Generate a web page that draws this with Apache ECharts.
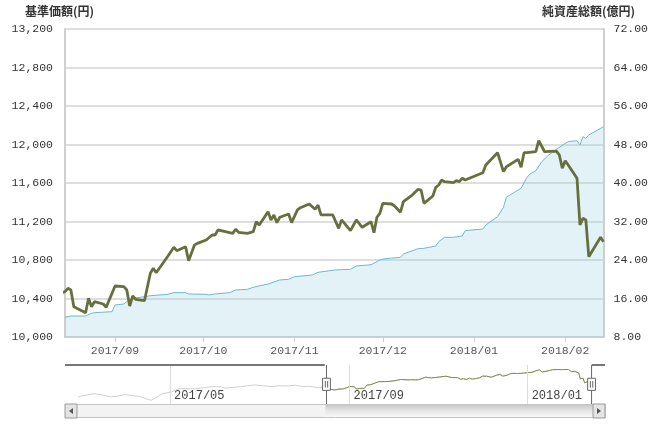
<!DOCTYPE html>
<html>
<head>
<meta charset="utf-8">
<script src="https://cdn.jsdelivr.net/npm/echarts@6.0.0/dist/echarts.min.js"></script>
<style>
html,body{margin:0;padding:0;background:#fff;}
#fund{width:651px;height:428px;}
</style>
</head>
<body>
<div id="fund"></div>
<script>
// 基準価額(円)
var navDates = [
  '2017-02-27','2017-03-03','2017-03-10','2017-03-15','2017-03-22','2017-03-27','2017-03-31',
  '2017-04-05','2017-04-10','2017-04-14','2017-04-18','2017-04-21','2017-04-26',
  '2017-05-02','2017-05-08','2017-05-15','2017-05-22','2017-05-29',
  '2017-06-05','2017-06-08','2017-06-13','2017-06-19','2017-06-23','2017-06-28',
  '2017-07-04','2017-07-10','2017-07-14','2017-07-21','2017-07-26','2017-07-31',
  '2017-08-04','2017-08-10','2017-08-14','2017-08-15','2017-08-16','2017-08-17','2017-08-18',
  '2017-08-22','2017-08-23','2017-08-24','2017-08-25','2017-08-28','2017-08-29',
  '2017-09-01','2017-09-04','2017-09-05','2017-09-06','2017-09-07','2017-09-08','2017-09-11',
  '2017-09-13','2017-09-14','2017-09-15','2017-09-19','2017-09-21','2017-09-22','2017-09-25',
  '2017-09-26','2017-09-28','2017-09-29',
  '2017-10-02','2017-10-04','2017-10-05','2017-10-06','2017-10-11','2017-10-12','2017-10-13',
  '2017-10-16','2017-10-18','2017-10-19','2017-10-20','2017-10-23','2017-10-24','2017-10-25',
  '2017-10-26','2017-10-27','2017-10-30','2017-10-31',
  '2017-11-02','2017-11-03','2017-11-06','2017-11-08','2017-11-09','2017-11-10','2017-11-14',
  '2017-11-16','2017-11-17','2017-11-18','2017-11-20','2017-11-22','2017-11-24','2017-11-27',
  '2017-11-28','2017-11-29','2017-11-30',
  '2017-12-01','2017-12-04','2017-12-05','2017-12-07','2017-12-08','2017-12-11','2017-12-13',
  '2017-12-14','2017-12-15','2017-12-18','2017-12-19','2017-12-20','2017-12-21','2017-12-22',
  '2017-12-25','2017-12-26','2017-12-27','2017-12-28','2017-12-29',
  '2018-01-04','2018-01-05','2018-01-09','2018-01-11','2018-01-12','2018-01-16','2018-01-17',
  '2018-01-18','2018-01-19','2018-01-22','2018-01-23','2018-01-25','2018-01-29','2018-01-30',
  '2018-01-31',
  '2018-02-01','2018-02-02','2018-02-05','2018-02-06','2018-02-07','2018-02-08','2018-02-09',
  '2018-02-13','2018-02-14'
];
var navValues = [
  9680,9800,9950,9850,9680,9760,9870,
  9800,9720,9560,9410,9600,9950,
  10090,10390,10330,10400,10520,
  10520,10390,10470,10520,10600,10660,
  10590,10520,10600,10580,10640,10520,
  10560,10440,10460,10471,10506,10488,10315,
  10252,10402,10315,10367,10343,10309,
  10530,10523,10488,10322,10426,10392,10377,
  10662,10714,10668,10842,10932,10897,10938,
  10793,10956,10973,
  11008,11060,11060,11112,11077,11119,11088,
  11077,11094,11198,11164,11302,11216,11268,
  11188,11244,11278,11188,
  11320,11343,11382,11327,11371,11268,11268,
  11129,11216,11181,11105,11216,11140,11198,
  11084,11244,11285,
  11389,11382,11361,11297,11406,11475,11534,
  11527,11389,11465,11555,11579,11631,11614,
  11603,11624,11614,11649,11631,
  11707,11787,11915,11718,11769,11846,11763,
  11915,11915,11925,12040,11925,11932,11891,
  11753,
  11832,11787,11649,11164,11233,11216,10834,
  11036,10990
];

// 純資産総額(億円)
var assetDates = [
  '2017-08-15','2017-08-17','2017-08-22','2017-08-24','2017-08-25','2017-08-31',
  '2017-09-01','2017-09-04','2017-09-05','2017-09-07','2017-09-11','2017-09-13','2017-09-19',
  '2017-09-21','2017-09-25','2017-09-26',
  '2017-10-02','2017-10-03','2017-10-05','2017-10-10','2017-10-12','2017-10-16','2017-10-18',
  '2017-10-23','2017-10-27','2017-10-30',
  '2017-11-01','2017-11-07','2017-11-09','2017-11-13','2017-11-15','2017-11-17','2017-11-20',
  '2017-11-22','2017-11-27','2017-11-30',
  '2017-12-01','2017-12-04','2017-12-07','2017-12-08','2017-12-13','2017-12-15','2017-12-19',
  '2017-12-20','2017-12-22','2017-12-25','2017-12-28','2017-12-29',
  '2018-01-04','2018-01-05','2018-01-09','2018-01-11','2018-01-12','2018-01-15','2018-01-17',
  '2018-01-18','2018-01-19','2018-01-20','2018-01-22','2018-01-24','2018-01-26','2018-01-29',
  '2018-02-01','2018-02-02','2018-02-05','2018-02-06','2018-02-07','2018-02-08','2018-02-09',
  '2018-02-14'
];
var assetValues = [
  12.09,12.36,12.36,12.92,13.05,13.26,
  14.65,14.86,15.34,16.04,16.38,16.58,16.87,
  17.21,17.21,16.94,
  16.87,16.73,16.94,17.21,17.77,17.91,18.33,
  19.01,19.85,19.99,
  20.53,20.88,21.44,21.78,21.92,22.0,22.07,
  22.75,23.02,24.0,
  24.2,24.4,24.56,25.25,26.35,26.43,26.91,
  27.8,28.72,28.72,28.99,30.1,
  30.44,31.27,33.0,34.95,37.03,38.2,38.9,
  40.06,41.19,41.87,42.56,44.43,45.62,47.0,
  48.25,48.59,48.79,47.9,49.62,49.28,49.97,
  51.7
];

// 期間
var rangeStart = '2017-02-18';
var rangeEnd = '2018-02-23';
var viewStart = '2017-08-15';
var viewEnd = '2018-02-14';
var navigatorTicks = ['2017-05-01', '2017-09-01', '2018-01-01'];

var mono = '"Liberation Mono", "DejaVu Sans Mono", monospace';
var cjk = '"Noto Sans CJK JP", sans-serif';

function ts(s) {
  var p = s.split('-');
  return new Date(+p[0], +p[1] - 1, +p[2]).getTime();
}
function ym(v) {
  var d = new Date(v);
  var m = d.getMonth() + 1;
  return d.getFullYear() + '/' + (m < 10 ? '0' + m : m);
}

var navData = navDates.map(function (d, i) { return [ts(d), navValues[i]]; });
var assetData = assetDates.map(function (d, i) { return [ts(d), assetValues[i]]; });
// ナビゲーターで選択中の部分
var navSelected = navData.filter(function (p) {
  return p[0] >= ts(viewStart) && p[0] <= ts(viewEnd);
});
var navTop = 12300;

var fundchart = echarts.init(document.getElementById('fund'));

var option = {
  animation: false,
  title: [
    { text: '基準価額(円)', left: 20, top: 0,
      textStyle: { fontSize: 12, fontWeight: 'bold', color: '#333', fontFamily: cjk } },
    { text: '純資産総額(億円)', right: 11, top: 0,
      textStyle: { fontSize: 12, fontWeight: 'bold', color: '#333', fontFamily: cjk } }
  ],
  grid: [
    { left: 65, right: 47, top: 29, height: 308 },
    { left: 65, right: 46, top: 365, height: 39 }
  ],
  xAxis: [
    {
      type: 'time', gridIndex: 0, min: ts(rangeStart), max: ts(rangeEnd),
      axisLine: { lineStyle: { color: '#cfcfcf', width: 2 } },
      axisTick: { show: true, length: 5, lineStyle: { color: '#cfcfcf' } },
      splitLine: { show: false },
      axisLabel: { formatter: ym, color: '#555', fontFamily: mono, fontSize: 11.5, margin: 8,
                   showMinLabel: false, showMaxLabel: false }
    },
    {
      // ナビゲーターの目盛（4か月ごと）
      type: 'value', gridIndex: 1, min: ts(rangeStart), max: ts(rangeEnd),
      axisLine: { show: false },
      axisTick: { show: false },
      splitLine: { show: false },
      axisLabel: { inside: true, customValues: navigatorTicks.map(ts), formatter: ym,
                   align: 'left', margin: 2, padding: [0, 0, 0, 4],
                   color: '#444', fontFamily: mono, fontSize: 12 }
    }
  ],
  yAxis: [
    {
      type: 'value', gridIndex: 0, position: 'left', min: 10000, max: 13200, interval: 400,
      axisLine: { show: true, lineStyle: { color: '#cfcfcf', width: 2 } },
      axisTick: { show: false },
      splitLine: { lineStyle: { color: '#dedede', width: 2 } },
      axisLabel: { formatter: function (v) { return v.toLocaleString('en-US'); },
                   color: '#333', fontFamily: mono, fontSize: 11.5, margin: 12 }
    },
    {
      type: 'value', gridIndex: 0, position: 'right', min: 8, max: 72, interval: 8,
      axisLine: { show: true, lineStyle: { color: '#cfcfcf', width: 2 } },
      axisTick: { show: false },
      splitLine: { show: false },
      axisLabel: { formatter: function (v) { return v.toFixed(2); },
                   color: '#333', fontFamily: mono, fontSize: 11.5, margin: 10 }
    },
    { type: 'value', gridIndex: 1, min: 9100, max: navTop, show: false }
  ],
  dataZoom: [
    {
      type: 'slider', xAxisIndex: 0, filterMode: 'none',
      startValue: ts(viewStart), endValue: ts(viewEnd),
      left: 65, right: 46, top: 365, height: 39,
      showDataShadow: false, showDetail: false, brushSelect: false, moveHandleSize: 0,
      backgroundColor: 'rgba(0,0,0,0)', fillerColor: 'rgba(0,0,0,0)', borderColor: 'rgba(0,0,0,0)',
      handleIcon: 'path://M0,0V35M0,66V100M-10,35h20v31h-20zM-3,42V59M3,42V59',
      handleSize: '100%',
      handleStyle: { color: '#fff', borderColor: '#666', borderWidth: 1 }
    },
    {
      type: 'slider', xAxisIndex: 0, filterMode: 'none', zoomLock: true,
      startValue: ts(viewStart), endValue: ts(viewEnd),
      left: 65, right: 46, top: 404, height: 14,
      showDataShadow: false, showDetail: false, brushSelect: false, moveHandleSize: 0,
      handleSize: 0, handleStyle: { opacity: 0 },
      backgroundColor: '#f3f3f3', borderColor: '#c4c4c4',
      fillerColor: new echarts.graphic.LinearGradient(0, 0, 0, 1, [
        { offset: 0, color: '#fdfdfd' }, { offset: 0.5, color: '#e6e6e6' }, { offset: 1, color: '#c4c4c4' }
      ])
    }
  ],
  // スクロールバーの矢印ボタン
  graphic: [
    { id: 'btnL', type: 'rect', shape: { x: 65, y: 404, width: 12, height: 14 },
      style: { fill: '#e4e4e4', stroke: '#9a9a9a' }, z: 100 },
    { id: 'arrowL', type: 'polygon', shape: { points: [[73, 408], [73, 414], [69, 411]] },
      style: { fill: '#555' }, z: 101 },
    { id: 'btnR', type: 'rect', shape: { x: 593, y: 404, width: 12, height: 14 },
      style: { fill: '#e4e4e4', stroke: '#9a9a9a' }, z: 100 },
    { id: 'arrowR', type: 'polygon', shape: { points: [[597, 408], [597, 414], [601, 411]] },
      style: { fill: '#555' }, z: 101 }
  ],
  series: [
    {
      name: '純資産総額', type: 'line', xAxisIndex: 0, yAxisIndex: 1,
      data: assetData, showSymbol: false,
      lineStyle: { color: '#6ab9cf', width: 1 },
      itemStyle: { color: '#6ab9cf' },
      areaStyle: { color: 'rgba(160,210,225,0.42)' }
    },
    {
      name: '基準価額', type: 'line', xAxisIndex: 0, yAxisIndex: 0,
      data: navData, showSymbol: false,
      lineStyle: { color: '#66703f', width: 2.8 },
      itemStyle: { color: '#66703f' }
    },
    {
      type: 'line', xAxisIndex: 1, yAxisIndex: 2, data: navData, showSymbol: false, silent: true,
      lineStyle: { color: '#d0d0d0', width: 1 },
      // ナビゲーターの縦の目盛線
      markLine: {
        silent: true, symbol: 'none', label: { show: false },
        lineStyle: { color: '#dcdcdc', width: 1, type: 'solid' },
        data: navigatorTicks.map(function (d) { return { xAxis: ts(d) }; })
      }
    },
    {
      type: 'line', xAxisIndex: 1, yAxisIndex: 2, data: navSelected, showSymbol: false, silent: true,
      lineStyle: { color: '#7d8c4a', width: 1 }
    }
  ]
};

fundchart.setOption(option);

// ナビゲーター上端の枠線（選択範囲の外側のみ）
var navFinder = { xAxisIndex: 1, yAxisIndex: 2 };
var pA = fundchart.convertToPixel(navFinder, [ts(rangeStart), navTop]);
var pB = fundchart.convertToPixel(navFinder, [ts(viewStart), navTop]);
var pC = fundchart.convertToPixel(navFinder, [ts(viewEnd), navTop]);
var pD = fundchart.convertToPixel(navFinder, [ts(rangeEnd), navTop]);
fundchart.setOption({
  graphic: [
    { id: 'edgeL', type: 'line', shape: { x1: pA[0], y1: pA[1], x2: pB[0], y2: pB[1] },
      style: { stroke: '#777', lineWidth: 2 }, z: 50 },
    { id: 'edgeR', type: 'line', shape: { x1: pC[0], y1: pC[1], x2: pD[0], y2: pD[1] },
      style: { stroke: '#777', lineWidth: 2 }, z: 50 }
  ]
});
</script>
</body>
</html>
